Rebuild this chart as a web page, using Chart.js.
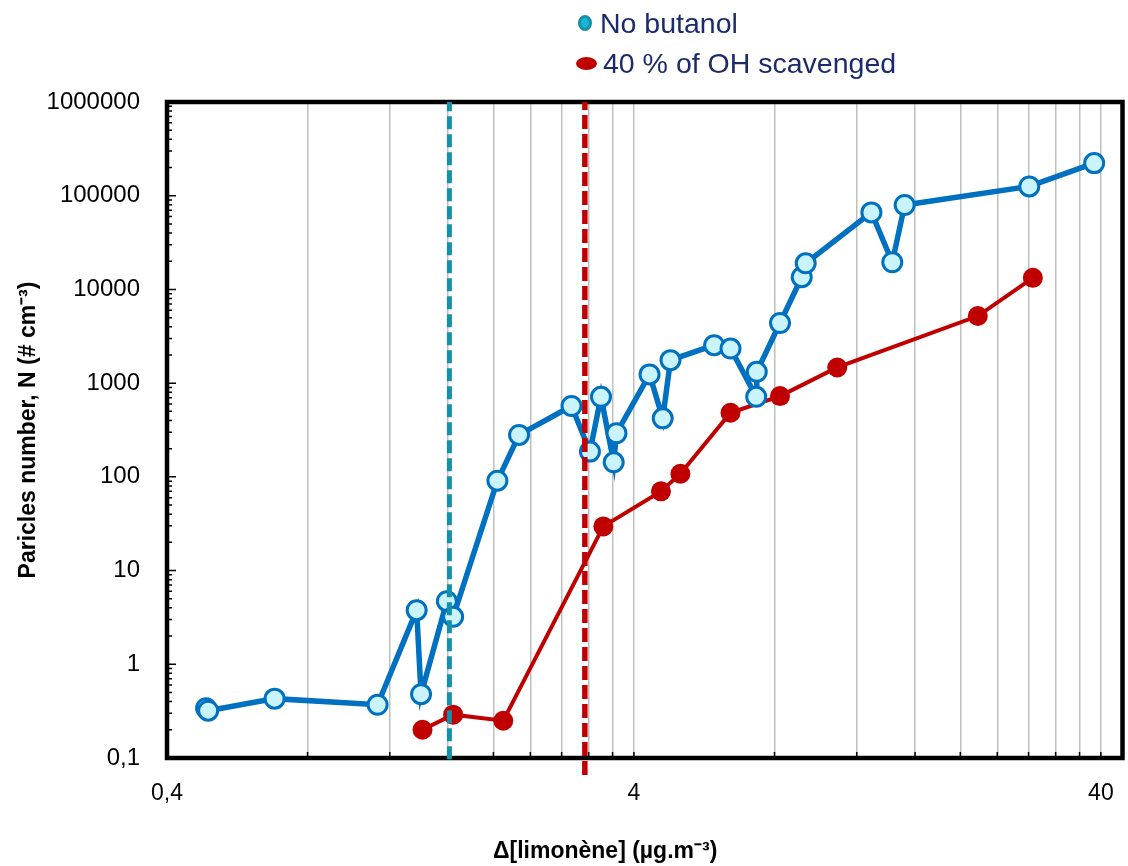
<!DOCTYPE html>
<html lang="fr">
<head>
    <meta charset="UTF-8">
    <title>Nombre de particules - limonène</title>
    <script src="https://cdn.jsdelivr.net/npm/chart.js"></script>
    <style>
        body {
            margin: 0;
            background: #fff;
            overflow: hidden;
            font-family: "Liberation Sans", Arial, sans-serif;
        }
        #wrap {
            position: relative;
            width: 1128px;
            height: 866px;
            overflow: hidden;
        }
        /* le canvas déborde de 7px : Chart.js garde une marge à droite pour le libellé "40" */
        #chart {
            display: block;
        }
        .legend {
            position: absolute;
            left: 576px;
            top: 3px;
            color: #1C2B6B;
            font-size: 28.5px;
        }
        .legend .item {
            display: flex;
            align-items: center;
            height: 40px;
        }
        .legend .dot {
            display: inline-block;
            box-sizing: border-box;
            border-radius: 50%;
            margin-right: 6px;
        }
        .dot.cyan {
            width: 14px;
            height: 16px;
            margin-left: 2px;
            margin-right: 8px;
            background: #17B6D9;
            border: 3px solid #1590A8;
        }
        .dot.red {
            width: 21px;
            height: 13px;
            background: #C00000;
        }
        .x-title {
            position: absolute;
            left: 493px;
            top: 836px;
            font-size: 23px;
            line-height: 28px;
            font-weight: bold;
            color: #000;
            white-space: nowrap;
        }
    </style>
</head>
<body>
    <div id="wrap">
        <canvas id="chart" width="1135" height="866"></canvas>
        <div class="legend">
            <div class="item"><span class="dot cyan"></span>No butanol</div>
            <div class="item"><span class="dot red"></span>40 % of OH scavenged</div>
        </div>
        <div class="x-title">Δ[limonène] (µg.m⁻³)</div>
    </div>

    <script>
        // Δ[limonène] (µg.m-3) et nombre de particules N (# cm-3)
        const noButanolX = [0.485, 0.49, 0.68, 1.13, 1.37, 1.40, 1.59, 1.64, 2.04, 2.27, 2.94, 3.22, 3.40, 3.62, 3.67,
            4.32, 4.61, 4.79, 5.94, 6.44, 7.31, 7.33, 8.22, 9.15, 9.33, 12.9, 14.3, 15.2, 28.1, 38.7];
        const noButanolN = [0.34, 0.32, 0.43, 0.37, 3.78, 0.48, 4.71, 3.21, 91, 280, 570, 186, 715, 143, 292,
            1240, 421, 1760, 2540, 2340, 715, 1320, 4380, 13500, 19000, 66400, 19500, 79600, 125600, 222800];

        const scavengedX = [1.41, 1.64, 2.10, 3.44, 4.57, 5.03, 6.44, 8.22, 10.9, 21.8, 28.6];
        const scavengedN = [0.20, 0.29, 0.25, 29.6, 70, 108, 483, 728, 1470, 5200, 13300];

        // seuils de nucléation (lignes verticales)
        const thresholdNoButanol = 1.61;
        const thresholdScavenged = 3.14;
        const thresholdSpanN = [0.097, 1000000];
        const thresholdSpanScavN = [0.066, 1000000];

        // axes
        const xMin = 0.4, xMax = 44.5;
        const xLabelTicks = [0.4, 4, 40];
        const yMin = 0.1, yMax = 1000000;
        const yLabelTicks = [0.1, 1, 10, 100, 1000, 10000, 100000, 1000000];

        const toPoints = (xs, ys) => xs.map((x, i) => ({ x: x, y: ys[i] }));
        const fmt = v => String(v).replace('.', ',');

        // graduations secondaires : 0,4*k puis 4*k
        const xGrid = [];
        [0.4, 4].forEach(d => { for (let k = 1; k <= 9; k++) xGrid.push(+(d * k).toFixed(2)); });
        xGrid.push(40);

        const yMinor = [];
        for (let e = -1; e < 6; e++) {
            for (let k = 2; k <= 9; k++) yMinor.push(k * Math.pow(10, e));
        }

        // cadre noir + petites graduations intérieures
        const axisFrame = {
            id: 'axisFrame',
            beforeDatasetsDraw(chart) {
                const { ctx, chartArea: a, scales } = chart;
                ctx.save();
                ctx.strokeStyle = '#000';
                ctx.lineWidth = 1.5;
                ctx.beginPath();
                xGrid.forEach(v => {
                    const px = scales.x.getPixelForValue(v);
                    ctx.moveTo(px, a.bottom);
                    ctx.lineTo(px, a.bottom - 6);
                });
                yLabelTicks.forEach(v => {
                    const py = scales.y.getPixelForValue(v);
                    ctx.moveTo(a.left, py);
                    ctx.lineTo(a.left + 9, py);
                });
                yMinor.forEach(v => {
                    const py = scales.y.getPixelForValue(v);
                    ctx.moveTo(a.left, py);
                    ctx.lineTo(a.left + 5, py);
                });
                ctx.stroke();
                ctx.lineWidth = 4.5;
                ctx.strokeRect(a.left, a.top, a.right - a.left, a.bottom - a.top);
                ctx.restore();
            }
        };

        const ctx = document.getElementById('chart').getContext('2d');
        const chart = new Chart(ctx, {
            type: 'scatter',
            data: {
                datasets: [
                    {
                        label: 'No butanol (seuil)',
                        data: thresholdSpanN.map(n => ({ x: thresholdNoButanol, y: n })),
                        showLine: true,
                        borderColor: '#1590A8',
                        borderWidth: 5,
                        borderDash: [13, 5],
                        pointRadius: 0,
                        clip: false
                    },
                    {
                        label: '40 % of OH scavenged (seuil)',
                        data: thresholdSpanScavN.map(n => ({ x: thresholdScavenged, y: n })),
                        showLine: true,
                        borderColor: '#C00000',
                        borderWidth: 5.5,
                        borderDash: [14, 5],
                        pointRadius: 0,
                        clip: false
                    },
                    {
                        label: 'No butanol',
                        data: toPoints(noButanolX, noButanolN),
                        showLine: true,
                        borderColor: '#0070C0',
                        borderWidth: 5.5,
                        pointRadius: 9.5,
                        pointBorderWidth: 3,
                        pointBorderColor: '#0070C0',
                        pointBackgroundColor: '#C9F3FD'
                    },
                    {
                        label: '40 % of OH scavenged',
                        data: toPoints(scavengedX, scavengedN),
                        showLine: true,
                        borderColor: '#C00000',
                        borderWidth: 4,
                        pointRadius: 10,
                        pointBorderWidth: 0,
                        pointBackgroundColor: '#C00000'
                    }
                ]
            },
            options: {
                responsive: false,
                animation: false,
                events: [],
                layout: { padding: { top: 102, right: 6, left: 0, bottom: 0 } },
                plugins: {
                    legend: { display: false },
                    tooltip: { enabled: false }
                },
                scales: {
                    x: {
                        type: 'logarithmic',
                        min: xMin,
                        max: xMax,
                        afterBuildTicks: s => { s.ticks = xGrid.concat([xMax]).map(v => ({ value: v })); },
                        afterFit: s => { s.height = 108; },
                        // l'écart sous l'axe passe par tickLength (traits invisibles)
                        grid: { color: '#BFBFBF', lineWidth: 1.5, drawTicks: true, tickLength: 22, tickColor: 'rgba(0,0,0,0)' },
                        border: { display: false },
                        ticks: {
                            autoSkip: false,
                            maxRotation: 0,
                            padding: 0,
                            color: '#000',
                            font: { family: 'Liberation Sans', size: 23 },
                            callback: v => xLabelTicks.includes(v) ? fmt(v) : ''
                        },
                        title: { display: false }
                    },
                    y: {
                        type: 'logarithmic',
                        min: yMin,
                        max: yMax,
                        afterBuildTicks: s => { s.ticks = yLabelTicks.map(v => ({ value: v })); },
                        afterFit: s => { s.width = 167; },
                        grid: { display: false },
                        border: { display: false },
                        ticks: {
                            padding: 19,
                            color: '#000',
                            font: { family: 'Liberation Sans', size: 24 },
                            callback: v => fmt(v)
                        },
                        title: {
                            display: true,
                            text: 'Paricles number, N (# cm⁻³)',
                            color: '#000',
                            padding: { top: 15, bottom: 0 },
                            font: { family: 'Liberation Sans', size: 23, weight: 'bold' }
                        }
                    }
                }
            },
            plugins: [axisFrame]
        });
    </script>
</body>
</html>
